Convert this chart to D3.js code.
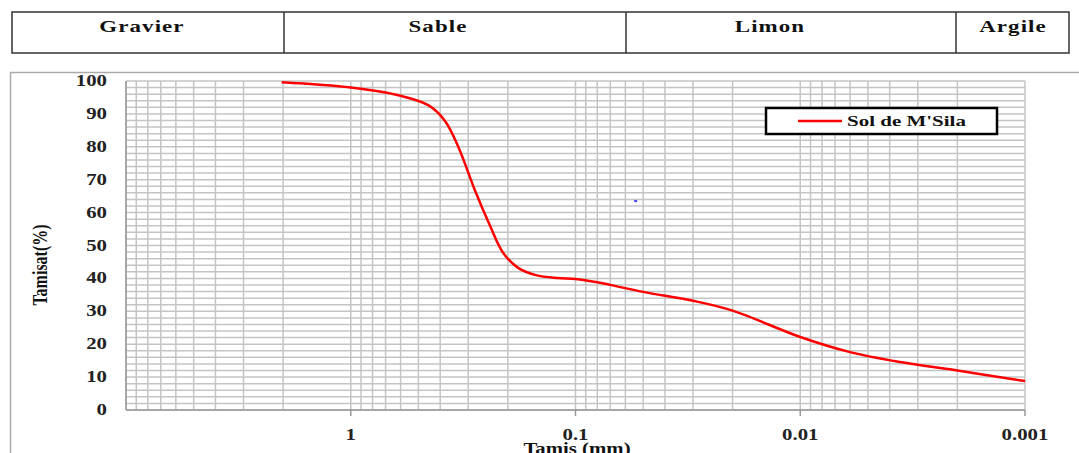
<!DOCTYPE html>
<html lang="en">
<head>
    <meta charset="UTF-8">
    <title>Courbe granulometrique</title>
    <script src="https://cdn.jsdelivr.net/npm/d3@7"></script>
    <style>
        body {
            margin: 0;
            background: #fff;
        }

        text {
            font-family: "Liberation Serif", "DejaVu Serif", serif;
            font-weight: bold;
        }
    </style>
</head>
<body>
<svg id="chart" width="1079" height="453"></svg>

<script>
    // classes du sol (bandeau du haut)
    let classes = ["Gravier", "Sable", "Limon", "Argile"];
    let classLimits = [12, 284, 626, 956, 1069];

    // courbe granulometrique : diametre (mm) / tamisat (%)
    let diametres = [2.03, 1, 0.6, 0.45, 0.38, 0.33, 0.28, 0.24, 0.21, 0.18, 0.15, 0.12, 0.1, 0.08, 0.05, 0.03, 0.02, 0.01, 0.006, 0.0036, 0.002, 0.001];
    let tamisat = [99.6, 98, 95.5, 92.6, 87.8, 79.5, 66.7, 56, 47.8, 43.2, 41, 40.1, 39.8, 38.8, 35.9, 33.2, 30.2, 22.2, 17.6, 14.6, 12, 8.8];

    let xTicks = [1, 0.1, 0.01, 0.001];
    let xTickLabels = ["1", "0.1", "0.01", "0.001"];
    let yTicks = [0, 10, 20, 30, 40, 50, 60, 70, 80, 90, 100];
    let serieName = "Sol de M'Sila";

    // petit point bleu parasite
    let strayPoint = [0.054, 63.5];

    let svg = d3.select("#chart");

    let plotLeft = 126, plotRight = 1025, plotTop = 81, plotBottom = 410;

    let x = d3.scaleLog().domain([10, 0.001]).range([plotLeft, plotRight]);
    let y = d3.scaleLinear().domain([0, 100]).range([plotBottom, plotTop]);

    // texte etire horizontalement comme sur la figure d'origine
    function stretchedText(parent, tx, ty, str, size, sx, anchor) {
        return parent.append("text")
            .attr("transform", "translate(" + tx + "," + ty + ") scale(" + sx + ",1)")
            .attr("text-anchor", anchor || "middle")
            .attr("font-size", size)
            .attr("fill", "#111")
            .text(str);
    }

    // bandeau
    let band = svg.append("g");
    band.append("rect")
        .attr("x", classLimits[0]).attr("y", 12)
        .attr("width", classLimits[4] - classLimits[0]).attr("height", 41)
        .attr("fill", "none").attr("stroke", "#333").attr("stroke-width", 1.5);
    for (let i = 1; i < classLimits.length - 1; i++) {
        band.append("line")
            .attr("x1", classLimits[i]).attr("x2", classLimits[i])
            .attr("y1", 12).attr("y2", 53)
            .attr("stroke", "#333").attr("stroke-width", 1.5);
    }
    let classCenters = [142, 438, 770, 1013];
    for (let i = 0; i < classes.length; i++) {
        stretchedText(band, classCenters[i], 32, classes[i], 17, 1.35)
            .attr("letter-spacing", "0.8px");
    }

    // cadre du graphique
    svg.append("path")
        .attr("d", "M10.5,453 L10.5,72.5 L1079,72.5")
        .attr("fill", "none").attr("stroke", "#aaa").attr("stroke-width", 1.5);

    // grille
    let grid = svg.append("g").attr("stroke", "#c4c4c4").attr("stroke-width", 1.5);
    d3.range(0, 101, 2).forEach(function (v) {
        grid.append("line")
            .attr("x1", plotLeft).attr("x2", plotRight)
            .attr("y1", y(v)).attr("y2", y(v));
    });
    let vLines = [];
    [1, 0.1, 0.01, 0.001].forEach(function (dec) {
        for (let k = 1; k <= 9; k++) vLines.push(dec * k);
    });
    vLines.push(10);
    vLines.forEach(function (v) {
        grid.append("line")
            .attr("x1", x(v)).attr("x2", x(v))
            .attr("y1", plotTop).attr("y2", plotBottom);
    });

    // axes
    svg.append("line")
        .attr("x1", plotLeft).attr("x2", plotLeft).attr("y1", plotTop).attr("y2", plotBottom)
        .attr("stroke", "#999").attr("stroke-width", 1.5);
    svg.append("line")
        .attr("x1", plotLeft).attr("x2", plotRight).attr("y1", plotBottom).attr("y2", plotBottom)
        .attr("stroke", "#999").attr("stroke-width", 1.5);

    xTicks.forEach(function (v, i) {
        svg.append("line")
            .attr("x1", x(v)).attr("x2", x(v)).attr("y1", plotBottom).attr("y2", plotBottom + 6)
            .attr("stroke", "#999").attr("stroke-width", 1.5);
        stretchedText(svg, x(v), 440, xTickLabels[i], 16, 1.3).attr("fill", "#222");
    });

    yTicks.forEach(function (v) {
        stretchedText(svg, 107, y(v) + 5, v, 16, 1.3, "end").attr("fill", "#222");
    });

    stretchedText(svg, 577, 454, "Tamis (mm)", 16, 1.3);

    svg.append("text")
        .attr("transform", "translate(47,265) rotate(-90) scale(1,1.3)")
        .attr("text-anchor", "middle")
        .attr("font-size", 16)
        .attr("fill", "#111")
        .text("Tamisat(%)");

    // courbe
    let pts = diametres.map(function (d, i) { return [d, tamisat[i]]; });
    let line = d3.line()
        .x(function (d) { return x(d[0]); })
        .y(function (d) { return y(d[1]); })
        .curve(d3.curveCatmullRom.alpha(0.5));

    svg.append("path")
        .datum(pts)
        .attr("d", line)
        .attr("fill", "none")
        .attr("stroke", "#ff0000")
        .attr("stroke-width", 2.5);

    svg.append("rect")
        .attr("x", x(strayPoint[0]) - 1.5).attr("y", y(strayPoint[1]) - 1)
        .attr("width", 3).attr("height", 2)
        .attr("fill", "#4040ff");

    // legende
    let legend = svg.append("g");
    legend.append("rect")
        .attr("x", 766).attr("y", 108).attr("width", 231).attr("height", 26)
        .attr("fill", "#fff").attr("stroke", "#000").attr("stroke-width", 2.5);
    legend.append("line")
        .attr("x1", 798).attr("x2", 842).attr("y1", 121).attr("y2", 121)
        .attr("stroke", "#ff0000").attr("stroke-width", 2.5);
    stretchedText(legend, 847, 126, serieName, 15, 1.4, "start");
</script>
</body>
</html>
